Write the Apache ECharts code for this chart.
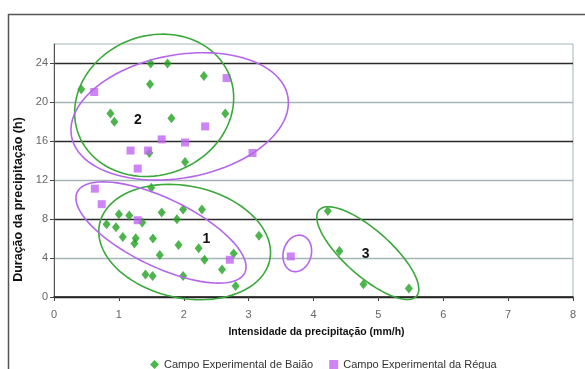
<!DOCTYPE html>
<html>
<head>
<meta charset="utf-8">
<script src="https://cdn.jsdelivr.net/npm/echarts@6/dist/echarts.min.js"></script>
<style>
html,body{margin:0;padding:0;background:#fff;}
#chart{width:585px;height:369px;}
</style>
</head>
<body>
<div id="chart"></div>
<script>
// ---- data ----
const seriesNames = ['Campo Experimental de Baião', 'Campo Experimental da Régua'];
const baiaoX = [0.42,1.49,1.75,1.48,2.31,0.87,0.93,1.81,2.64,1.47,2.02,1.50,1.00,1.16,0.81,0.955,1.36,1.06,1.26,1.24,1.525,1.66,1.895,1.99,2.28,1.92,1.63,2.23,2.32,2.77,2.59,1.41,1.52,1.99,2.80,3.16,4.22,4.40,4.77,5.47];
const baiaoY = [21.35,24.0,24.0,21.87,22.7,18.87,18.0,18.36,18.87,14.8,13.88,11.23,8.51,8.37,7.48,7.17,7.65,6.17,6.03,5.51,6.0,8.68,8.0,8.99,8.99,5.34,4.31,5.0,3.83,4.48,2.83,2.31,2.17,2.17,1.14,6.3,8.85,4.72,1.31,0.87];
const reguaX = [0.62,2.66,2.33,1.66,2.02,1.18,1.45,1.29,3.06,0.63,0.735,1.29,2.71,3.65];
const reguaY = [21.07,22.5,17.53,16.2,15.88,15.05,15.05,13.2,14.8,11.13,9.54,7.89,3.83,4.17];
const xTickValues = [0,1,2,3,4,5,6,7,8];
const yTickValues = [0,4,8,12,16,20,24];
const groupLabels = ['1','2','3'];
const groupLabelX = [2.348,1.294,4.803];
const groupLabelY = [5.93,18.18,4.38];

// ---- annotation ellipses (centre in data units, radii in px, angle in deg) ----
const GREEN = '#22a322', PURPLE = '#c066f2';
const ellipses = [
  {cx:1.544, cy:19.70, a:81,  b:69.5, ang:-21.6, color:'#3ca83c'},
  {cx:1.937, cy:18.56, a:110, b:61.5, ang:-10.5, color:'#b566ea'},
  {cx:2.014, cy:5.65,  a:87,  b:56,   ang:12,    color:'#3ca83c'},
  {cx:1.649, cy:6.63,  a:93,  b:34,   ang:25.7,  color:'#b566ea'},
  {cx:3.750, cy:4.48,  a:18.5,b:14,   ang:-75,   color:'#b566ea'},
  {cx:4.837, cy:4.51,  a:65,  b:23,   ang:41.5,  color:'#3ca83c'}
];

const FONT = '"Liberation Sans", Arial, sans-serif';
const chart = echarts.init(document.getElementById('chart'), null, {renderer:'canvas'});

const option = {
  backgroundColor:'#fff',
  animation:false,
  textStyle:{fontFamily:FONT},
  graphic:[{
    type:'polyline', z:100, silent:true,
    shape:{points:[[8.5,369],[8.5,14.5],[585,14.5]]},
    style:{stroke:'#555', lineWidth:1.5, fill:null}
  }],
  grid:{left:54, right:12, top:44, bottom:72, show:true, borderColor:'#a5b5b8', borderWidth:1, backgroundColor:'#fff'},
  legend:{
    left:145, top:354, itemGap:16, itemWidth:9, itemHeight:9,
    textStyle:{fontFamily:FONT, fontSize:11, color:'#333'},
    data:[{name:seriesNames[0], icon:'diamond'},{name:seriesNames[1], icon:'rect'}]
  },
  xAxis:{
    type:'value', min:0, max:8, interval:1,
    name:'Intensidade da precipitação (mm/h)', nameLocation:'middle', nameGap:30,
    nameTextStyle:{fontFamily:FONT, fontSize:10.5, fontWeight:'bold', color:'#111', padding:[0,0,0,6]},
    axisLine:{show:true, onZero:false, lineStyle:{color:'#222', width:1.5}},
    axisTick:{show:true, length:4, inside:false, lineStyle:{color:'#444'}},
    axisLabel:{fontFamily:FONT, fontSize:11, color:'#666', margin:12, customValues:xTickValues},
    splitLine:{show:false}
  },
  yAxis:{
    type:'value', min:0, max:26, interval:4,
    name:'Duração da precipitação (h)', nameLocation:'middle', nameGap:27, nameRotate:90,
    nameTextStyle:{fontFamily:FONT, fontSize:12.5, fontWeight:'bold', color:'#111', padding:[0,58,0,0]},
    axisLine:{show:true, lineStyle:{color:'#555', width:1}},
    axisTick:{show:true, length:4, lineStyle:{color:'#444'}, customValues:yTickValues},
    axisLabel:{fontFamily:FONT, fontSize:11, color:'#666', margin:6, customValues:yTickValues},
    splitLine:{show:true, lineStyle:{color:['#2a2a2a','#a5b5b8'], width:1.3}}
  },
  series:[
    {
      name:seriesNames[0], type:'scatter', symbol:'diamond', symbolSize:[8,10],
      itemStyle:{color:GREEN}, z:3,
      data:baiaoX.map((x,i)=>[x, baiaoY[i]])
    },
    {
      name:seriesNames[1], type:'scatter', symbol:'rect', symbolSize:8,
      itemStyle:{color:PURPLE}, z:3,
      data:reguaX.map((x,i)=>[x, reguaY[i]])
    },
    {
      type:'custom', silent:true, z:4, clip:false,
      data:ellipses.map(e=>[e.cx, e.cy]),
      renderItem:function(params, api){
        const e = ellipses[params.dataIndex];
        const c = api.coord([api.value(0), api.value(1)]);
        const t = e.ang*Math.PI/180, ct=Math.cos(t), st=Math.sin(t);
        const pts=[];
        for(let k=0;k<=96;k++){
          const p = 2*Math.PI*k/96;
          const u = e.a*Math.cos(p), v = e.b*Math.sin(p);
          pts.push([c[0]+u*ct - v*st, c[1]+u*st + v*ct]);
        }
        return {type:'polyline', shape:{points:pts}, style:{stroke:e.color, lineWidth:1.6, fill:null}};
      }
    },
    {
      type:'custom', silent:true, z:5, clip:false,
      data:groupLabels.map((l,i)=>[groupLabelX[i], groupLabelY[i]]),
      renderItem:function(params, api){
        const c = api.coord([api.value(0), api.value(1)]);
        return {type:'text', x:c[0], y:c[1], style:{text:groupLabels[params.dataIndex], font:'bold 14px '+FONT, fill:'#111', align:'center', verticalAlign:'middle'}};
      }
    }
  ]
};
chart.setOption(option);
</script>
</body>
</html>
